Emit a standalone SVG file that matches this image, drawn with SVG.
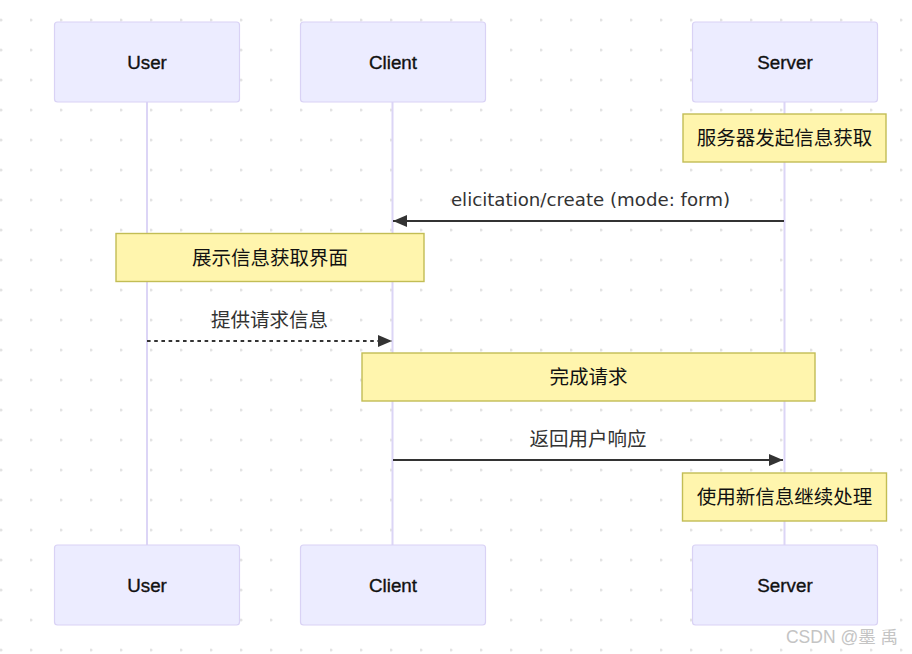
<svg xmlns="http://www.w3.org/2000/svg" width="912" height="654" viewBox="0 0 912 654">
<style>
.actor rect{fill:#ececff;stroke:#d9d2f5;stroke-width:1.2}
.actor text{font-family:"Liberation Sans","Noto Sans CJK SC",sans-serif;font-size:18.8px;fill:#111;stroke:#111;stroke-width:0.35;text-anchor:middle;dominant-baseline:central}
.life{stroke:#dcd5f6;stroke-width:2}
.note rect{fill:#fff5ad;stroke:#c2bd55;stroke-width:1.4}
.note text{font-family:"Liberation Sans","Noto Sans CJK SC",sans-serif;font-size:19.5px;fill:#111;text-anchor:middle;dominant-baseline:central}
.msg{stroke:#333;stroke-width:2;fill:none}
.lbl{font-family:"DejaVu Sans","Noto Sans CJK SC",sans-serif;font-size:18.2px;fill:#333;text-anchor:middle;dominant-baseline:central}
.lblc{font-family:"Noto Sans CJK SC",sans-serif;font-size:19.5px;fill:#333;text-anchor:middle;dominant-baseline:central}
</style>
<defs>
<pattern id="dots" x="0" y="20" width="30" height="30" patternUnits="userSpaceOnUse">
<circle cx="1" cy="0" r="1.6" fill="#e3e3e3"/>
<circle cx="1" cy="30" r="1.6" fill="#e3e3e3"/>
</pattern>
<marker id="arr" viewBox="0 0 14 12" refX="14" refY="6" markerWidth="14" markerHeight="12" markerUnits="userSpaceOnUse" orient="auto">
<path d="M0,0 L14,6 L0,12 Z" fill="#333"/>
</marker>
</defs>
<rect width="912" height="654" fill="#fff"/>
<rect width="912" height="654" fill="url(#dots)"/>
<g id="lifelines">
<line class="life" x1="147" y1="102" x2="147" y2="545"/>
<line class="life" x1="392.5" y1="102" x2="392.5" y2="545"/>
<line class="life" x1="784.5" y1="102" x2="784.5" y2="545"/>
</g>
<g id="actor-user-top" class="actor"><rect x="54.5" y="22" width="185" height="80" rx="3"/><text x="147" y="62">User</text></g>
<g id="actor-client-top" class="actor"><rect x="300.5" y="22" width="185" height="80" rx="3"/><text x="393" y="62">Client</text></g>
<g id="actor-server-top" class="actor"><rect x="692.5" y="22" width="185" height="80" rx="3"/><text x="785" y="62">Server</text></g>
<g id="note-1" class="note"><rect x="683" y="114" width="203" height="48"/><text x="784.5" y="138">服务器发起信息获取</text></g>
<g id="note-2" class="note"><rect x="116" y="233.5" width="308" height="48"/><text x="270" y="257.5">展示信息获取界面</text></g>
<g id="note-3" class="note"><rect x="362" y="353" width="453" height="48"/><text x="588.5" y="377">完成请求</text></g>
<g id="note-4" class="note"><rect x="682.5" y="473" width="204" height="48"/><text x="784.5" y="497">使用新信息继续处理</text></g>
<g id="connectors">
<line class="msg" x1="784" y1="221" x2="393" y2="221" marker-end="url(#arr)"/>
<text class="lbl" x="590.5" y="199">elicitation/create (mode: form)</text>
<line class="msg" x1="147" y1="341" x2="392" y2="341" stroke-dasharray="3.6 3.6" marker-end="url(#arr)"/>
<text class="lblc" x="269.5" y="318">提供请求信息</text>
<line class="msg" x1="393" y1="460" x2="783" y2="460" marker-end="url(#arr)"/>
<text class="lblc" x="588" y="437">返回用户响应</text>
</g>
<g id="actor-user-bottom" class="actor"><rect x="54.5" y="545" width="185" height="80" rx="3"/><text x="147" y="585">User</text></g>
<g id="actor-client-bottom" class="actor"><rect x="300.5" y="545" width="185" height="80" rx="3"/><text x="393" y="585">Client</text></g>
<g id="actor-server-bottom" class="actor"><rect x="692.5" y="545" width="185" height="80" rx="3"/><text x="785" y="585">Server</text></g>
<text x="842" y="637" font-family="Liberation Sans,Noto Sans CJK SC,sans-serif" font-size="17.5" fill="#c4c4c4" text-anchor="middle" dominant-baseline="central">CSDN @墨 禹</text>
</svg>
